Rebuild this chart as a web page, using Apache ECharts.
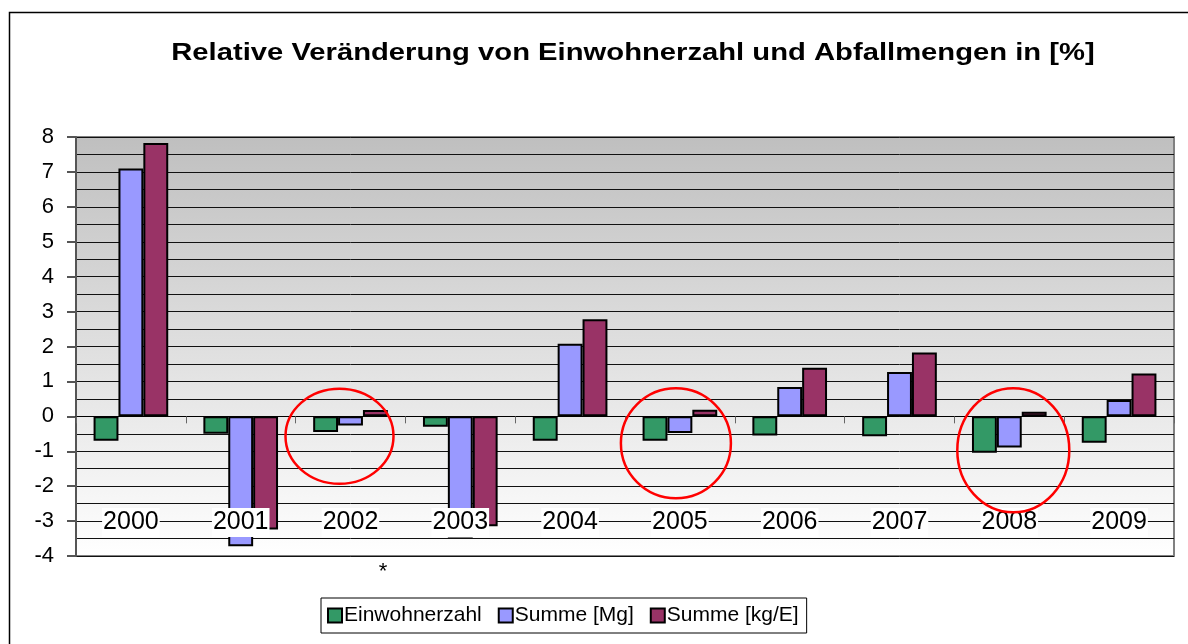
<!DOCTYPE html>
<html><head><meta charset="utf-8">
<script src="https://cdn.jsdelivr.net/npm/echarts@6/dist/echarts.min.js"></script>
<style>html,body{margin:0;padding:0;background:#fff}#c{width:1188px;height:644px}</style>
</head><body><div id="c"></div>
<script>
var years = ['2000','2001','2002','2003','2004','2005','2006','2007','2008','2009'];
var einwohnerzahl = [-0.7, -0.5, -0.45, -0.3, -0.7, -0.7, -0.55, -0.57, -1.04, -0.76];
var summeMg = [7.1, -3.72, -0.26, -3.47, 2.08, -0.48, 0.84, 1.27, -0.89, 0.47];
var summeKgE = [7.83, -3.24, 0.18, -3.15, 2.78, 0.19, 1.39, 1.83, 0.13, 1.23];
var yTicks = [-4, 8, 1];
var titleText = 'Relative Veränderung von Einwohnerzahl und Abfallmengen in [%]';
// highlighted years (index, value of ellipse center, radii in px, x shift)
var marked = [[2, -0.57, 54, 47.5, -11], [5, -0.77, 55, 55, -4], [8, -0.97, 56, 62, 4]];

var FONT = 'Liberation Sans, Arial, sans-serif';
var chart = echarts.init(document.getElementById('c'), null, {renderer:'canvas'});
function barSeries(name, data, color){
  return {name:name, type:'bar', data:data, barGap:'0%', barCategoryGap:'32%',
    itemStyle:{color:color, borderColor:'#000', borderWidth:2}, emphasis:{disabled:true}};
}
var option = {
  animation:false,
  backgroundColor:'#fff',
  textStyle:{fontFamily:FONT},
  grid:{left:76, top:137, right:14, bottom:88, show:true, containLabel:false, outerBoundsMode:'none',
    borderColor:'#808080', borderWidth:2,
    backgroundColor:new echarts.graphic.LinearGradient(0,0,0,1,[{offset:0,color:'#bfbfbf'},{offset:1,color:'#ffffff'}])},
  legend:{left:321, top:598, padding:[7,8,7,6], itemGap:16, itemWidth:14, itemHeight:14,
    borderColor:'#000', borderWidth:1, icon:'rect',
    textStyle:{fontFamily:FONT, fontSize:21, color:'#000', padding:[0,0,0,-3]}},
  xAxis:{type:'category', data:years, z:5,
    axisLine:{onZero:true, lineStyle:{color:'#000', width:1}},
    axisTick:{show:true, length:7, lineStyle:{color:'#666'}},
    axisLabel:{margin:-48, fontSize:25, lineHeight:25, color:'#000', fontFamily:FONT,
      backgroundColor:'#fff', padding:[2,1,2,1]},
    splitLine:{show:false}},
  yAxis:{type:'value', min:yTicks[0], max:yTicks[1], interval:yTicks[2],
    axisLine:{show:true, onZero:false, lineStyle:{color:'#555', width:2}},
    axisTick:{show:true, length:9, lineStyle:{color:'#555', width:2}},
    axisLabel:{fontSize:22, color:'#000', margin:22, fontFamily:FONT},
    splitLine:{show:true, lineStyle:{color:'#111', width:1}},
    minorTick:{show:false, splitNumber:2},
    minorSplitLine:{show:true, lineStyle:{color:'#111', width:1}}},
  series:[
    barSeries('Einwohnerzahl', einwohnerzahl, '#339966'),
    barSeries('Summe [Mg]', summeMg, '#9999ff'),
    barSeries('Summe [kg/E]', summeKgE, '#993366')
  ]
};
chart.setOption(option);
var g = [{type:'rect', shape:{x:9.5, y:12.5, width:1400, height:800}, style:{fill:'none', stroke:'#000', lineWidth:1.5}, silent:true, z:0},
  {type:'text', x:633, y:54, scaleX:1.27, style:{text:titleText, font:'bold 23px '+FONT, fill:'#000', align:'center', verticalAlign:'middle'}, z:10},
  {type:'text', x:383, y:572, style:{text:'*', font:'22px '+FONT, fill:'#000', align:'center', verticalAlign:'middle'}, z:10}];
marked.forEach(function(m){
  var p = chart.convertToPixel({gridIndex:0}, [m[0], m[1]]);
  g.push({type:'ellipse', shape:{cx:p[0]+m[4], cy:p[1], rx:m[2], ry:m[3]},
    style:{fill:'none', stroke:'#ff0000', lineWidth:2.5}, z:20, silent:true});
});
chart.setOption({graphic:g});
</script></body></html>
